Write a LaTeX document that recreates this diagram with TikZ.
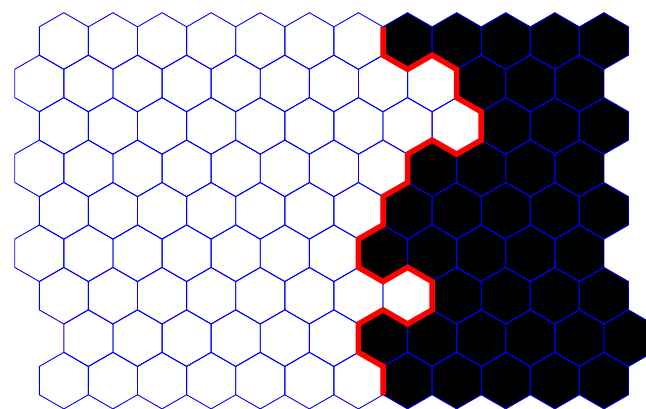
\documentclass[tikz,border=0pt]{standalone}
\newcommand\hexat[2]{(#1,#2-28.3) -- ++(24.55,14.15) -- ++(0,28.3) -- ++(-24.55,14.15) -- ++(-24.55,-14.15) -- ++(0,-28.3) -- cycle}
\begin{document}
\begin{tikzpicture}[x=1pt,y=-1pt,
  hexline/.style={draw=blue,line width=0.9pt,line join=miter},
  hexfill/.style={fill=black},
  cutline/.style={draw=red,line width=5.5pt,line join=miter,line cap=butt}]
\useasboundingbox (0,0) rectangle (646,409);
\clip (0,0) rectangle (646,409);
% black cells
\foreach \r/\first/\last/\blk in {0/0/11/7,1/0/11/9,2/0/11/9,3/0/11/8,4/0/11/7,5/0/11/7,6/0/11/8,7/1/12/7,8/0/11/7}{
  \foreach \k in {\first,...,\last}{
    \pgfmathsetmacro\cx{(mod(\r,2)==0 ? 63.85 : 39.3) + 49.1*\k}
    \pgfmathsetmacro\cy{41 + 42.45*\r}
    \ifnum\k<\blk\relax\else
      \path[hexfill] \hexat{\cx}{\cy};
    \fi
  }
}
% outlines
\foreach \r/\first/\last in {0/0/11,1/0/11,2/0/11,3/0/11,4/0/11,5/0/11,6/0/11,7/1/12,8/0/11}{
  \foreach \k in {\first,...,\last}{
    \pgfmathsetmacro\cx{(mod(\r,2)==0 ? 63.85 : 39.3) + 49.1*\k}
    \pgfmathsetmacro\cy{41 + 42.45*\r}
    \path[hexline] \hexat{\cx}{\cy};
  }
}
% red boundary
\draw[cutline] (383.0,26.85) -- (383.0,55.15) -- (407.55,69.3) -- (432.1,55.15)
  -- (456.65,69.3) -- (456.65,97.6) -- (481.2,111.75) -- (481.2,140.05)
  -- (456.65,154.2) -- (432.1,140.05) -- (407.55,154.2) -- (407.55,182.5)
  -- (383.0,196.65) -- (383.0,224.95) -- (358.45,239.1) -- (358.45,267.4)
  -- (383.0,281.55) -- (407.55,267.4) -- (432.1,281.55) -- (432.1,309.85)
  -- (407.55,324) -- (383.0,309.85) -- (358.45,324) -- (358.45,352.3)
  -- (383.0,366.45) -- (383.0,394.75);
\end{tikzpicture}
\end{document}
